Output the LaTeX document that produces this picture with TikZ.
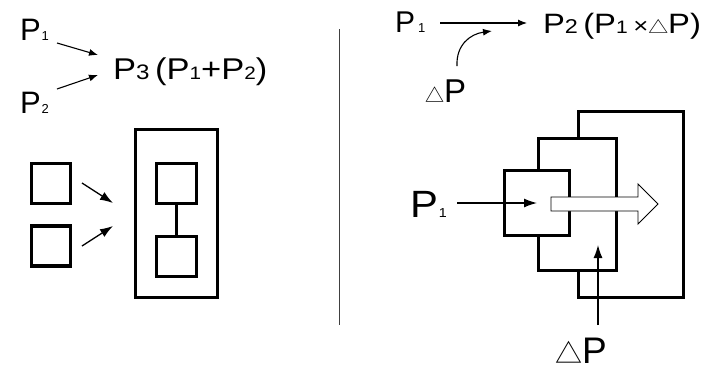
\documentclass[tikz,border=0pt]{standalone}
\usepackage{fontspec}
\setmainfont{Liberation Sans}
\newfontfamily\cjkf{Noto Sans CJK SC}
\usetikzlibrary{arrows.meta}
\newcommand\fs[1]{\fontsize{#1}{#1}\selectfont}
\newcommand\tri[1]{\smash{\cjkf\fs{#1}△}}
\begin{document}
\begin{tikzpicture}[x=1pt,y=-1pt,
  txt/.style={anchor=base west,inner sep=0pt,outer sep=0pt},
  box/.style={draw,line width=3.2pt,fill=white,inner sep=0pt,outer sep=0pt},
  rbox/.style={draw,line width=3pt,fill=white,inner sep=0pt,outer sep=0pt},
  smallarrow/.style={line width=1.1pt,-{Latex[length=9pt,width=7pt]}},
  bigarrow/.style={line width=1.3pt,-{Latex[length=13pt,width=9pt]}},
  hollow/.style={draw,line width=0.9pt,fill=white,line join=miter},
  divider/.style={draw=black!75,line width=1pt}
]
\useasboundingbox (0,0) rectangle (722,370);

% ---------- left top ----------
\node[txt] (lp1) at (20,40) {\fs{31}P\kern1pt{\fs{13}1}};
\node[txt] (lp2) at (20,113) {\fs{31}P\kern1pt{\fs{13}2}};
\node[txt,xscale=1.15] (lp3) at (113,79) {\fs{30}P{\fs{21}3}\,(P{\fs{18}1}+P{\fs{18}2})};
\coordinate (a1s) at (57,43);
\coordinate (a1e) at (98,55);
\coordinate (a2s) at (57,89);
\coordinate (a2e) at (98,75);
\draw[smallarrow] (a1s) -- (a1e);
\draw[smallarrow] (a2s) -- (a2e);

% ---------- left bottom ----------
\node[box,minimum width=39pt,minimum height=40pt] (s1) at (51,183.5) {};
\node[box,minimum width=39pt,minimum height=40pt] (s2) at (51,246) {};
\node[box,minimum width=81.6pt,minimum height=167.6pt] (big) at (176.5,213.5) {};
\node[box,minimum width=40pt,minimum height=40pt] (i1) at (176.5,183.5) {};
\node[box,minimum width=40pt,minimum height=40pt] (i2) at (176.5,256.5) {};
\draw[line width=3.2pt] (i1.south) -- (i2.north);
\coordinate (b1s) at (82,183);
\coordinate (b1e) at (113,203);
\coordinate (b2s) at (82,246);
\coordinate (b2e) at (113,226);
\draw[bigarrow] (b1s) -- (b1e);
\draw[bigarrow] (b2s) -- (b2e);

% ---------- divider ----------
\coordinate (dtop) at (339,29);
\coordinate (dbot) at (339,325);
\draw[divider] (dtop) -- (dbot);

% ---------- right top ----------
\node[txt] (rp1) at (395,32) {\fs{30}P\kern3pt{\fs{13}1}};
\node[txt,xscale=1.17] (rp2) at (543,33) {\fs{28}P{\fs{20}2}\,(P{\fs{18}1}\,{\fs{22}×}\tri{17}P)};
\node[txt] (rdp) at (425,102) {\tri{19}{\fs{33}P}};
\coordinate (c1s) at (440,23);
\coordinate (c1e) at (527,23);
\draw[smallarrow] (c1s) -- (c1e);
\coordinate (c2s) at (457,66);
\coordinate (c2e) at (492,31);
\draw[smallarrow] (c2s) .. controls (456,45) and (470,34) .. (c2e);

% ---------- right bottom ----------
\node[rbox,minimum width=105pt,minimum height=186pt] (outer) at (631,204.5) {};
\node[rbox,minimum width=78pt,minimum height=132pt] (middle) at (577.5,204.5) {};
\node[rbox,minimum width=65pt,minimum height=65pt] (small) at (537,203) {};
\path[hollow] (551,197) -- (638,197) -- (638,184) -- (658,204) -- (638,224) -- (638,211) -- (551,211) -- cycle;
\node[txt,xscale=1.1] (bp1) at (410,217) {\fs{38}P\kern1pt{\fs{13}1}};
\coordinate (d1s) at (457,203);
\draw[bigarrow] (d1s) -- (small.center);
\node[txt] (bdp) at (555,363) {\tri{27}{\fs{37}P}};
\coordinate (e1s) at (598,325);
\coordinate (e1e) at (598,245);
\draw[bigarrow] (e1s) -- (e1e);
\end{tikzpicture}
\end{document}
